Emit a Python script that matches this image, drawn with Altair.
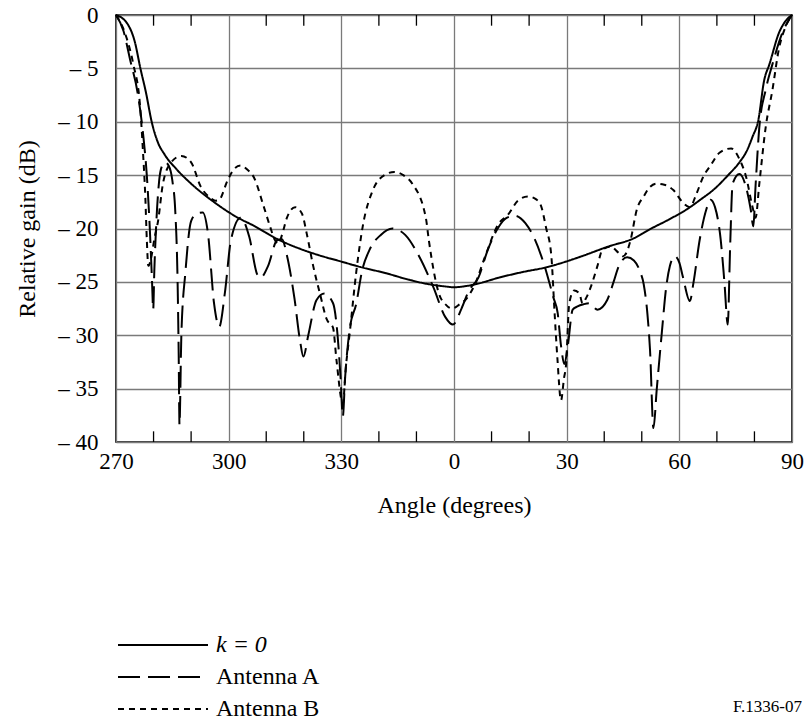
import altair as alt
import pandas as pd

FONT = "Liberation Serif"

series_names = ["k = 0", "Antenna A", "Antenna B"]

# k = 0 curve (angle in degrees, -90 = 270°)
k0_deg = [-90, -87, -85, -83.5, -82, -80.5, -79, -77, -74, -70, -64, -58, -53, -47,
          -41, -36, -30, -25, -18, -12, -7, -3, 0, 3, 6, 12, 18, 25, 28, 34, 41, 48,
          52, 57, 62, 66, 69, 73, 76, 78, 79.5, 81, 82.6, 84, 86.5, 88, 90]
k0_db = [0, -0.8, -2.5, -5, -7.3, -10, -11.8, -13.1, -14.4, -15.8, -17.5, -18.9, -19.8, -21.0,
         -21.9, -22.5, -23.1, -23.6, -24.2, -24.8, -25.2, -25.4, -25.5, -25.4, -25.2, -24.6, -24.1, -23.6, -23.3, -22.6, -21.7, -20.9,
         -20.1, -19.2, -18.2, -17.2, -16.4, -15.0, -13.8, -12.7, -11.4, -9.9, -6.1, -4.6, -1.7, -0.7, 0]

# Antenna A
a_deg = [-90, -88, -86.3, -84.1, -82.8, -81.8, -81, -80.4, -80.1, -79.8, -79.2, -78.5, -77.7, -77,
         -76, -75, -74.2, -73.6, -73.3, -73.1, -72.6, -71.5, -70, -68.5, -66.9, -65.5, -63.9, -62.5,
         -61, -59.4, -56.8, -54.5, -52.4, -51.5, -49.5, -47.1, -45.8, -44.5, -42.5, -41, -40.1, -38.8,
         -36.6, -34.5, -32.2, -31, -30.2, -29.6, -29, -27.8, -26, -24.5, -22.5, -19.5, -16.4, -13,
         -9.3, -5.5, -2.3, -0.3, 2, 4, 6.5, 9, 11.8, 14, 16.2, 19, 21.5, 24.1, 26.5, 27.6, 28.5,
         29.4, 30.3, 31.6, 32.9, 34.5, 36, 38.2, 40.8, 42.5, 43.9, 46.1, 47.9, 49.5, 50.5, 51.5,
         52.2, 53.1, 54, 55.3, 56.5, 57.5, 58.8, 60, 61, 62.8, 63.8, 65.4, 67.2, 68.3, 69.5, 71,
         72, 72.9, 73.5, 74.2, 76, 77.5, 79, 79.7, 80.3, 81.3, 83, 84.8, 87.4, 90]
a_db = [0, -1.5, -4.1, -7.6, -11.1, -15, -20, -25, -27.6, -24, -19, -15.5, -14.1, -13.8,
        -14.1, -15.5, -18.5, -25, -32, -38.4, -30, -24, -19.3, -18.6, -18.5, -20.5, -27, -29.2,
        -26, -21.1, -19.0, -20.8, -24.3, -24.6, -23.5, -21.1, -21.0, -22.5, -26.5, -30.5, -32, -30,
        -26.7, -26.1, -27, -30, -34, -37.6, -34, -29.5, -27, -24, -22, -20.6, -20.0, -20.6,
        -22.6, -25.5, -28.3, -29.0, -27.5, -25.8, -24.6, -22, -19.9, -19.0, -18.8, -19.5, -21, -23.5, -26.5, -27.9, -31,
        -32.7, -31, -27.6, -27.3, -27.1, -27.0, -27.6, -26.7, -25, -23.5, -22.7, -23, -24, -25.2, -28,
        -31.4, -38.7, -35, -29.9, -25.5, -23.5, -22.6, -23.2, -24.6, -26.8, -25, -21.1, -18.2, -17.3, -18, -21,
        -25, -29, -22, -15.8, -14.9, -15.8, -18.2, -19.8, -16, -10.5, -7, -4.6, -1.7, 0]

# Antenna B
b_deg = [-90, -87.6, -85.4, -83.6, -82.8, -82.2, -81.8, -81.4, -80.5, -79.8, -78.8, -77.5, -75.3,
         -72.6, -70, -67.4, -65, -63.5, -62.5, -60.3, -58.5, -56.8, -55, -53.3, -50.7, -48.9,
         -47.8, -46.7, -45.8, -44.5, -42.3, -40.5, -39.2, -37.5, -35.7, -33.9, -32.2, -31.3, -29.6,
         -28.8, -27.8, -26, -24.3, -21.6, -18.5, -15.9, -13.5, -11.1, -7.5, -6.7, -4.1, -2, -0.5,
         1.5, 3, 5.6, 8.3, 11.8, 14.4, 17, 19.7, 22, 23.2, 24.5, 25.9, 26.8, 27.5, 28.5, 29.3,
         29.8, 30.7, 32, 33.4, 34.2, 35.2, 36.4, 38.2, 39.5, 41.7, 43.9, 45, 46, 47, 48.7, 50.5,
         52.2, 54, 56, 58.4, 61, 62.8, 64.5, 66.3, 68.5, 70.7, 73.8, 76, 77.8, 79.5, 80.3, 81.3,
         83, 84.8, 86.5, 88.3, 90]
b_db = [0, -1.7, -4.6, -8.5, -12.9, -17, -21, -23.5, -22.5, -21, -19.3, -15.8, -13.8,
        -13.2, -13.8, -16.1, -17.1, -17.4, -17.3, -15.5, -14.4, -14.1, -14.5, -15.2, -17.9, -19.9,
        -21, -21.4, -20.6, -19, -18.0, -18.6, -20.5, -23.5, -26.1, -28.5, -29.3, -32.3, -36.4,
        -33, -29.9, -24, -19.8, -16.4, -15.0, -14.7, -15, -15.8, -19.0, -21.1, -26.0, -27.2, -27.5,
        -27.1, -26.7, -25.2, -22.6, -19.6, -18.7, -17.4, -17.0, -17.3, -17.9, -19.9, -22.5, -28, -32, -36.1, -34,
        -32.9, -27, -25.8, -26.1, -27, -26.5, -25.5, -23.5, -22.0, -21.7, -22.3, -22.6, -22.2, -21.1, -18.2, -17.0,
        -16.1, -15.8, -15.9, -16.4, -17.6, -18.0, -16.8, -15.2, -14, -12.9, -12.5, -13.5, -15.2, -18, -19.0, -15.8,
        -10.5, -7, -3.2, -1.1, 0]

x_tick_values = [-90, -60, -30, 0, 30, 60, 90]
y_tick_values = [0, -5, -10, -15, -20, -25, -30, -35, -40]
minor_tick_deg = [-80, -70, -50, -40, -20, -10, 10, 20, 40, 50, 70, 80]
tick_len_db = 1.0

rows = []
for name, degs, dbs in zip(series_names, [k0_deg, a_deg, b_deg], [k0_db, a_db, b_db]):
    for d, v in zip(degs, dbs):
        rows.append({"deg": d, "db": v, "series": name})
df = pd.DataFrame(rows)

n = len(minor_tick_deg)
tick_df = pd.DataFrame({
    "deg": minor_tick_deg * 2,
    "y0": [-40] * n + [0] * n,
    "y1": [-40 + tick_len_db] * n + [-tick_len_db] * n,
})

PLOT_W, PLOT_H = 676, 427

x_scale = alt.Scale(domain=[-90, 90], nice=False, zero=False)
y_scale = alt.Scale(domain=[-40, 0], nice=False, zero=False)

x_axis = alt.Axis(
    values=x_tick_values,
    labelExpr="datum.value < 0 ? datum.value + 360 : datum.value",
    title="Angle (degrees)",
    grid=True, ticks=False, domain=False,
    labelFlush=False, labelOverlap=False,
    labelPadding=8, labelFontSize=23,
    titleFontSize=24, titleY=63, titleBaseline="middle",
)
y_axis = alt.Axis(
    values=y_tick_values,
    labelExpr="datum.value == 0 ? '0' : '\u2013 ' + abs(datum.value)",
    title="Relative gain (dB)",
    grid=True, ticks=False, domain=False,
    labelFlush=False, labelOverlap=False,
    labelPadding=18, labelFontSize=23,
    titleFontSize=24, titleX=-89, titleY=PLOT_H / 2, titleAngle=270,
    titleAlign="center", titleBaseline="middle",
)

ticks = alt.Chart(tick_df).mark_rule(color="black", strokeWidth=1.3).encode(
    x=alt.X("deg:Q", scale=x_scale, axis=x_axis),
    y=alt.Y("y0:Q", scale=y_scale, axis=y_axis),
    y2="y1:Q",
)

lines = alt.Chart(df).mark_line(color="black", strokeWidth=2, interpolate="monotone").encode(
    x=alt.X("deg:Q", scale=x_scale, axis=x_axis),
    y=alt.Y("db:Q", scale=y_scale, axis=y_axis),
    strokeDash=alt.StrokeDash(
        "series:N",
        scale=alt.Scale(domain=series_names, range=[[1, 0], [22, 8], [6, 5]]),
        legend=alt.Legend(
            orient="none", legendX=35, legendY=618, title=None,
            symbolType="M-4.5,0H4.5", symbolSize=400, symbolStrokeWidth=2,
            symbolStrokeColor="black", labelOffset=41, rowPadding=8, padding=0,
            labelFont=FONT, labelFontSize=24, labelColor="black", labelLimit=300,
            labelFontStyle=alt.ExprRef(expr="datum.value == 'k = 0' ? 'italic' : 'normal'"),
        ),
    ),
)

chart = alt.layer(ticks, lines).properties(
    width=PLOT_W, height=PLOT_H,
    autosize=alt.AutoSizeParams(type="none"),
    padding={"left": 116, "top": 15, "right": 810 - 116 - PLOT_W, "bottom": 725 - 15 - PLOT_H},
    title=alt.TitleParams(
        text="F.1336-07", orient="bottom", anchor="end", frame="group",
        offset=-22, dx=10, font=FONT, fontSize=17, fontWeight="normal", color="black",
    ),
).configure(
    font=FONT,
    background="white",
).configure_view(
    stroke="black", strokeWidth=1.6,
).configure_axis(
    gridColor="#7a7a7a", gridWidth=1.3, gridOpacity=1,
    labelFont=FONT, labelColor="black",
    titleFont=FONT, titleColor="black", titleFontWeight="normal",
)

chart.save("out.html", embed_options={"renderer": "svg", "actions": False})
